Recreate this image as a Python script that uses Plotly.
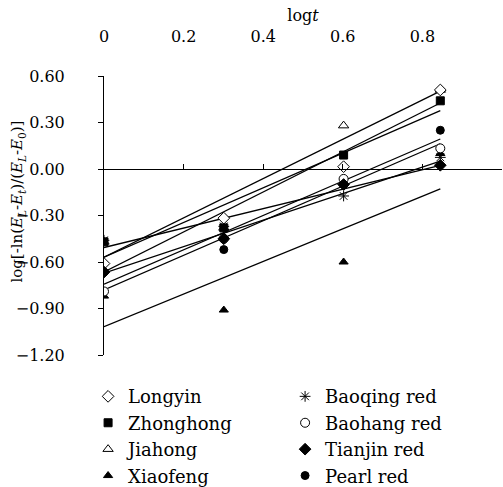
import numpy as np
import plotly.graph_objects as go

# ---- data ----
log_t = [0.0, 0.301, 0.602, 0.845]

names = ["Longyin", "Zhonghong", "Jiahong", "Xiaofeng",
         "Baoqing red", "Baohang red", "Tianjin red", "Pearl red"]

longyin   = [-0.61, -0.317, 0.015, 0.51]
zhonghong = [-0.47, -0.38, 0.09, 0.44]
jiahong   = [-0.47, -0.38, 0.28, 0.51]
xiaofeng  = [-0.82, -0.91, -0.60, 0.10]
baoqing   = [-0.46, -0.37, -0.174, 0.075]
baohang   = [-0.79, -0.45, -0.064, 0.133]
tianjin   = [-0.665, -0.45, -0.10, 0.024]
pearl     = [-0.665, -0.52, -0.10, 0.25]

x_ticks = [0, 0.2, 0.4, 0.6, 0.8, 1]
y_ticks = [0.6, 0.3, 0.0, -0.3, -0.6, -0.9, -1.2]

values = [longyin, zhonghong, jiahong, xiaofeng, baoqing, baohang, tianjin, pearl]

# ---- styles ----
FONT = "DejaVu Serif"
symbols = ["diamond", "square", "triangle-up", "triangle-up",
           "asterisk-open", "circle", "diamond", "circle"]
fills = ["white", "black", "white", "black", "black", "white", "black", "black"]
sizes = [9, 8, 9, 8, 9, 9, 9, 8]
legend_ids = ["legend", "legend", "legend", "legend",
              "legend2", "legend2", "legend2", "legend2"]

fig = go.Figure()

for vals in values:
    slope, intercept = np.polyfit(log_t, vals, 1)
    xs = np.array([min(log_t), max(log_t)])
    fig.add_trace(go.Scatter(
        x=xs, y=slope * xs + intercept, mode="lines",
        line=dict(color="black", width=1.3),
        showlegend=False, hoverinfo="skip"))

draw_order = [2, 4, 0, 1, 3, 5, 6, 7]
for i in draw_order:
    fig.add_trace(go.Scatter(
        x=log_t, y=values[i], mode="markers", name=names[i],
        legend=legend_ids[i], legendrank=i,
        marker=dict(symbol=symbols[i], size=sizes[i], color=fills[i],
                    line=dict(color="black", width=1))))

fig.add_trace(go.Scatter(x=[0, 1], y=[0, 0], xaxis="x2", mode="markers",
                         marker=dict(opacity=0), showlegend=False,
                         hoverinfo="skip"))

y_min, y_max = -1.2, 0.6
zero_pos = (0 - y_min) / (y_max - y_min)

fig.update_layout(
    width=503, height=487,
    margin=dict(l=104, r=1, t=76, b=132, autoexpand=False),
    paper_bgcolor="white", plot_bgcolor="white",
    font=dict(family=FONT, size=16, color="black"),
    showlegend=True,
    xaxis=dict(range=[0, 1], tickvals=x_ticks, showticklabels=False,
               showline=True, linecolor="black", linewidth=1,
               ticks="inside", ticklen=5, tickcolor="black",
               showgrid=False, zeroline=False,
               anchor="free", position=zero_pos),
    xaxis2=dict(range=[0, 1], tickvals=x_ticks, overlaying="x", side="top",
                anchor="y", showline=False, ticks="", showgrid=False,
                zeroline=False, tickfont=dict(family=FONT, size=16),
                ticklabelstandoff=30,
                title=dict(text="log<i>t</i>", font=dict(family=FONT, size=16),
                           standoff=1)),
    yaxis=dict(range=[y_min, y_max], tickvals=y_ticks, tickformat=".2f",
               showline=True, linecolor="black", linewidth=1,
               ticks="outside", ticklen=5, tickcolor="black",
               showgrid=False, zeroline=False,
               tickfont=dict(family=FONT, size=16), ticklabelstandoff=30),
    annotations=[dict(
        text="log[-ln(<i>E<sub>L</sub></i>-<i>E<sub>t</sub></i>)/(<i>E<sub>L</sub></i>-<i>E</i><sub>0</sub>)]",
        xref="paper", yref="paper", x=-0.216, y=0.55,
        xanchor="center", yanchor="middle", textangle=-90, showarrow=False,
        font=dict(family=FONT, size=15))],
    legend=dict(x=-0.04, y=-0.083, xanchor="left", yanchor="top",
                font=dict(family=FONT, size=18), bgcolor="rgba(0,0,0,0)",
                itemwidth=30, tracegroupgap=0),
    legend2=dict(x=0.455, y=-0.083, xanchor="left", yanchor="top",
                 font=dict(family=FONT, size=18), bgcolor="rgba(0,0,0,0)",
                 itemwidth=30, tracegroupgap=0),
)

fig.write_html("out.html")
